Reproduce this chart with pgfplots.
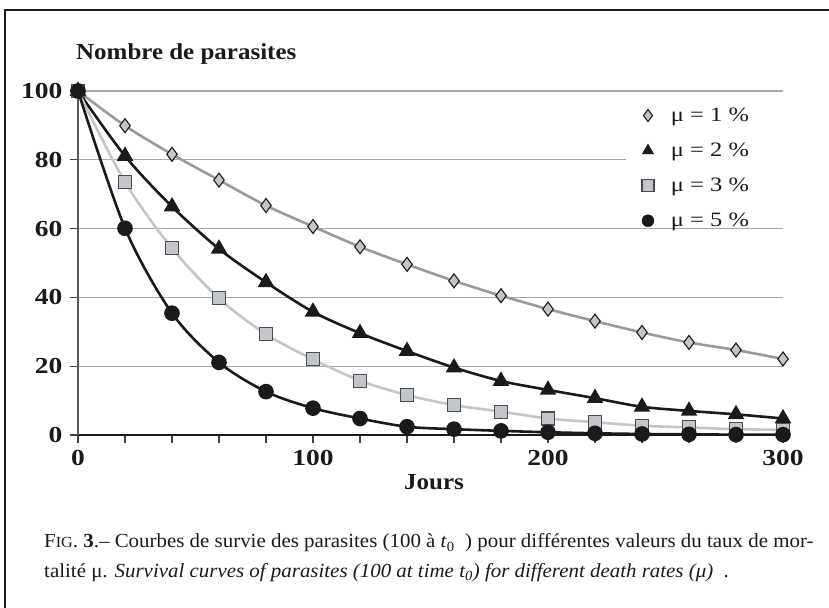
\documentclass[border=0pt]{standalone}
\usepackage{pgfplots}
\pgfplotsset{compat=1.18}
\usepackage{pgfplotstable}
\usepackage{fontspec}
\setmainfont{Liberation Serif}
\newfontfamily\tickfont[FakeStretch=1.2]{Liberation Serif}
\newfontfamily\legfont[FakeStretch=1.2]{Liberation Serif}
\newfontfamily\titlefont[FakeStretch=1.09]{Liberation Serif}
\newfontfamily\capfont[FakeStretch=1.05]{Liberation Serif}
\definecolor{lg}{HTML}{C2C6CB}
\definecolor{mg}{HTML}{9A9A9A}
\definecolor{gridc}{HTML}{A8A8A8}
\definecolor{ink}{HTML}{1A1A1A}

\pgfplotstableread{
t   m1    m2    m3    m5
0   100   100   100   100
20  89.9  81.1  73.5  60.1
40  81.6  66.4  54.3  35.4
60  74.1  54.1  39.7  21.1
80  66.7  44.4  29.3  12.6
100 60.6  35.8  22.0  7.8
120 54.7  29.6  15.8  4.8
140 49.6  24.4  11.6  2.4
160 44.8  19.6  8.7   1.7
180 40.5  15.7  6.8   1.2
200 36.6  13.1  4.8   0.8
220 33.1  10.7  3.7   0.5
240 29.8  8.2   2.7   0.3
260 26.9  7.0   2.2   0.2
280 24.7  6.0   1.7   0.1
300 22.1  4.8   1.5   0.1
}\survdata

\begin{document}
\begin{tikzpicture}
\useasboundingbox (0,0) rectangle (829bp,608bp);
\draw[line width=1.6bp, ink] (5bp,0) -- (5bp,598bp) -- (829bp,598bp);
\begin{axis}[
  at={(78bp,173bp)}, anchor=south west,
  scale only axis, width=705bp, height=344bp,
  xmin=0, xmax=300, ymin=0, ymax=100,
  clip=false,
  axis x line=bottom, axis y line=left,
  axis line style={-, line width=1.3bp},
  x axis line style={draw=ink},
  y axis line style={draw=black!65},
  xtick={0,20,...,300},
  xticklabels={0,,,,,100,,,,,200,,,,,300},
  ytick={0,20,...,100},
  tick align=outside,
  major tick length=8bp,
  tick style={line width=1.3bp, draw=black!75},
  ymajorgrids,
  grid style={line width=1.3bp, draw=gridc},
  /pgf/number format/assume math mode=true,
  tick label style={font=\tickfont\bfseries\fontsize{23}{27}\selectfont, text=ink},
  xticklabel style={yshift=-4bp},
  yticklabel style={xshift=-4bp},
  xlabel={Jours},
  xlabel style={font=\titlefont\bfseries\fontsize{23}{27}\selectfont, text=ink,
    at={(rel axis cs:0.505,0)}, anchor=base, yshift=-55bp},
  legend style={at={(rel axis cs:0.777,0.957)}, anchor=north west,
    draw=none, fill=none, inner xsep=16bp, inner ysep=0bp, row sep=16bp, column sep=15bp,
    font=\legfont\fontsize{20.5}{24}\selectfont, text=ink},
  legend cell align=left,
]
\fill[white] (axis cs:233,77) rectangle (axis cs:301,83);
\addplot[smooth, line width=2.6bp, mg, mark=diamond*, mark size=7bp,
  mark options={fill=lg, draw=ink, line width=1.1bp}, forget plot]
  table[x=t, y=m1] {\survdata};
\addplot[smooth, line width=2.6bp, ink, mark=triangle*, mark size=7bp,
  mark options={fill=ink, draw=ink}, forget plot]
  table[x=t, y=m2] {\survdata};
\addplot[smooth, line width=2.6bp, lg, mark=square*, mark size=6.5bp,
  mark options={fill=lg, draw=black!70, line width=1.1bp}, forget plot]
  table[x=t, y=m3] {\survdata};
\addplot[smooth, line width=2.6bp, ink, mark=*, mark size=6.5bp,
  mark options={fill=ink, draw=ink}, forget plot]
  table[x=t, y=m5] {\survdata};
\addlegendimage{only marks, mark=diamond*, mark size=6bp, mark options={fill=lg, draw=ink, line width=1.1bp}}
\addlegendentry{μ = 1 \%}
\addlegendimage{only marks, mark=triangle*, mark size=6.5bp, mark options={fill=ink, draw=ink}}
\addlegendentry{μ = 2 \%}
\addlegendimage{only marks, mark=square*, mark size=6bp, mark options={fill=lg, draw=black!70, line width=1.1bp}}
\addlegendentry{μ = 3 \%}
\addlegendimage{only marks, mark=*, mark size=6bp, mark options={fill=ink, draw=ink}}
\addlegendentry{μ = 5 \%}
\end{axis}
\node[anchor=base west, inner sep=0, text=ink, font=\titlefont\bfseries\fontsize{23}{27}\selectfont]
  at (76bp,548.5bp) {Nombre de parasites};
\node[anchor=base west, inner sep=0, text=ink, font=\capfont\fontsize{20}{24}\selectfont]
  at (44bp,60bp) {F{\fontsize{15.5}{19}\selectfont IG}. \textbf{3}.– Courbes de survie des parasites (100 à \textit{t}\textsubscript{0}\ \ ) pour différentes valeurs du taux de mor-};
\node[anchor=base west, inner sep=0, text=ink, font=\capfont\fontsize{20}{24}\selectfont]
  at (44bp,31bp) {talité μ. \textit{Survival curves of parasites (100 at time t\textsubscript{0}) for different death rates (μ)}\ \ .};
\end{tikzpicture}
\end{document}
